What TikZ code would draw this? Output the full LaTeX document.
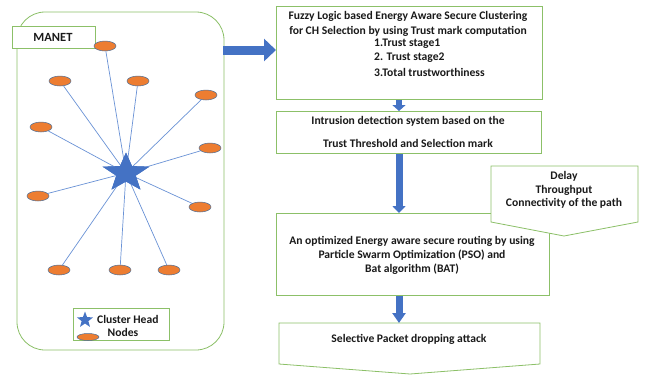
\documentclass[tikz,border=0pt]{standalone}
\usepackage{fontspec}
\setmainfont{Carlito}
\usetikzlibrary{arrows.meta,shapes.geometric,calc}
\definecolor{gr}{HTML}{8CC068}
\definecolor{bl}{HTML}{4472C4}
\definecolor{ln}{HTML}{6A92D6}
\definecolor{og}{HTML}{ED7D31}
\definecolor{ol}{HTML}{4A6E98}
\definecolor{tx}{HTML}{1A1A1A}
\tikzset{
  gbox/.style={draw=gr, line width=0.8pt, fill=white},
  txt/.style={font=\bfseries\fontsize{11.6}{12}\selectfont, text=tx, inner sep=0pt},
  mnode/.style={ellipse, fill=og, draw=ol, line width=0.5pt, minimum width=22pt, minimum height=10pt, inner sep=0pt},
  link/.style={draw=ln, line width=0.7pt},
  barrow/.style={draw=bl, line width=7pt, -{Triangle[width=13pt,length=7pt]}},
  chstar/.style={star, star points=5, star point ratio=2.4, fill=bl, inner sep=0pt},
}
\begin{document}
\begin{tikzpicture}[x=1pt,y=-1pt]
\useasboundingbox (0,0) rectangle (649,376);
% MANET panel
\draw[gbox, rounded corners=28pt] (17,12) rectangle (224,350);
\node[gbox, minimum width=83pt, minimum height=22pt, anchor=north west] (manet) at (12,26) {};
\node[txt, font=\bfseries\fontsize{12.5}{13}\selectfont] (manett) at (53,37) {MANET};
% cluster head
\foreach \n/\x/\y in {n1/105/46, n2/60/81, n3/138/81, n4/206/95, n5/41/127, n6/210/148, n7/38/196, n8/200/207, n9/59/270, n10/120/270, n11/169/270}{
  \node[mnode] (\n) at (\x,\y) {};
}
\node[chstar, minimum size=41pt, xscale=1.2, transform shape] (ch) at (126,173) {};
\foreach \n in {n1,n2,n3,n4,n5,n6,n7,n8,n9,n10,n11}{
  \draw[link] (ch.center) -- (\n);
}
\node[chstar, minimum size=41pt, xscale=1.2, transform shape] (ch2) at (ch.center) {};
% legend
\node[gbox, minimum width=96pt, minimum height=32pt, anchor=north west] (leg) at (73,308) {};
\node[chstar, minimum size=17pt] (lstar) at (85,320) {};
\node[txt, anchor=west] (lch) at (97,319) {Cluster Head};
\node[txt] (lnodes) at (123,332) {Nodes};
\node[mnode, minimum height=7pt] (lnode) at (88,337) {};
% box 1
\node[gbox, minimum width=266pt, minimum height=93pt, anchor=north west] (b1) at (276,6) {};
\node[txt] (b1a) at (408,16) {Fuzzy Logic based Energy Aware Secure Clustering};
\node[txt] (b1b) at (408,31) {for CH Selection by using Trust mark computation};
\node[txt, anchor=west] (b1c) at (374,44) {1.Trust stage1};
\node[txt, anchor=west] (b1d) at (374,58) {2. Trust stage2};
\node[txt, anchor=west] (b1e) at (374,72) {3.Total trustworthiness};
% box 2
\node[gbox, minimum width=265pt, minimum height=42pt, anchor=north west] (b2) at (276,111) {};
\node[txt] (b2a) at (408,121) {Intrusion detection system based on the};
\node[txt] (b2b) at (408,143) {Trust Threshold and Selection mark};
% box 3
\node[gbox, minimum width=273pt, minimum height=82pt, anchor=north west] (b3) at (276,213) {};
\node[txt] (b3a) at (412,241) {An optimized Energy aware secure routing by using};
\node[txt] (b3b) at (412,255) {Particle Swarm Optimization (PSO) and};
\node[txt] (b3c) at (412,269) {Bat algorithm (BAT)};
% callout
\draw[gbox] (491,166) -- (638,166) -- (638,222) -- (564,236) -- (491,222) -- cycle;
\node[txt] (c1) at (564,176) {Delay};
\node[txt] (c2) at (564,190) {Throughput};
\node[txt] (c3) at (564,203) {Connectivity of the path};
% box 4
\draw[gbox] (279,323) -- (540,323) -- (540,364) -- (410,374) -- (279,364) -- cycle;
\coordinate (b4n) at (399,323);
\node[txt] (b4t) at (409,339) {Selective Packet dropping attack};
% block arrows
\coordinate (a0) at (223,50);
\coordinate (a1) at (276,50);
\draw[barrow, line width=9pt, -{Triangle[width=22pt,length=12pt]}] (a0) -- (a1);
\draw[barrow, line width=6pt, -{Triangle[width=13pt,length=6pt]}] (b1.south -| b4n) -- (b2.north -| b4n);
\draw[barrow] (b2.south -| b4n) -- (b3.north -| b4n);
\draw[barrow, -{Triangle[width=13pt,length=10pt]}] (b3.south -| b4n) -- (b4n);
\end{tikzpicture}
\end{document}
